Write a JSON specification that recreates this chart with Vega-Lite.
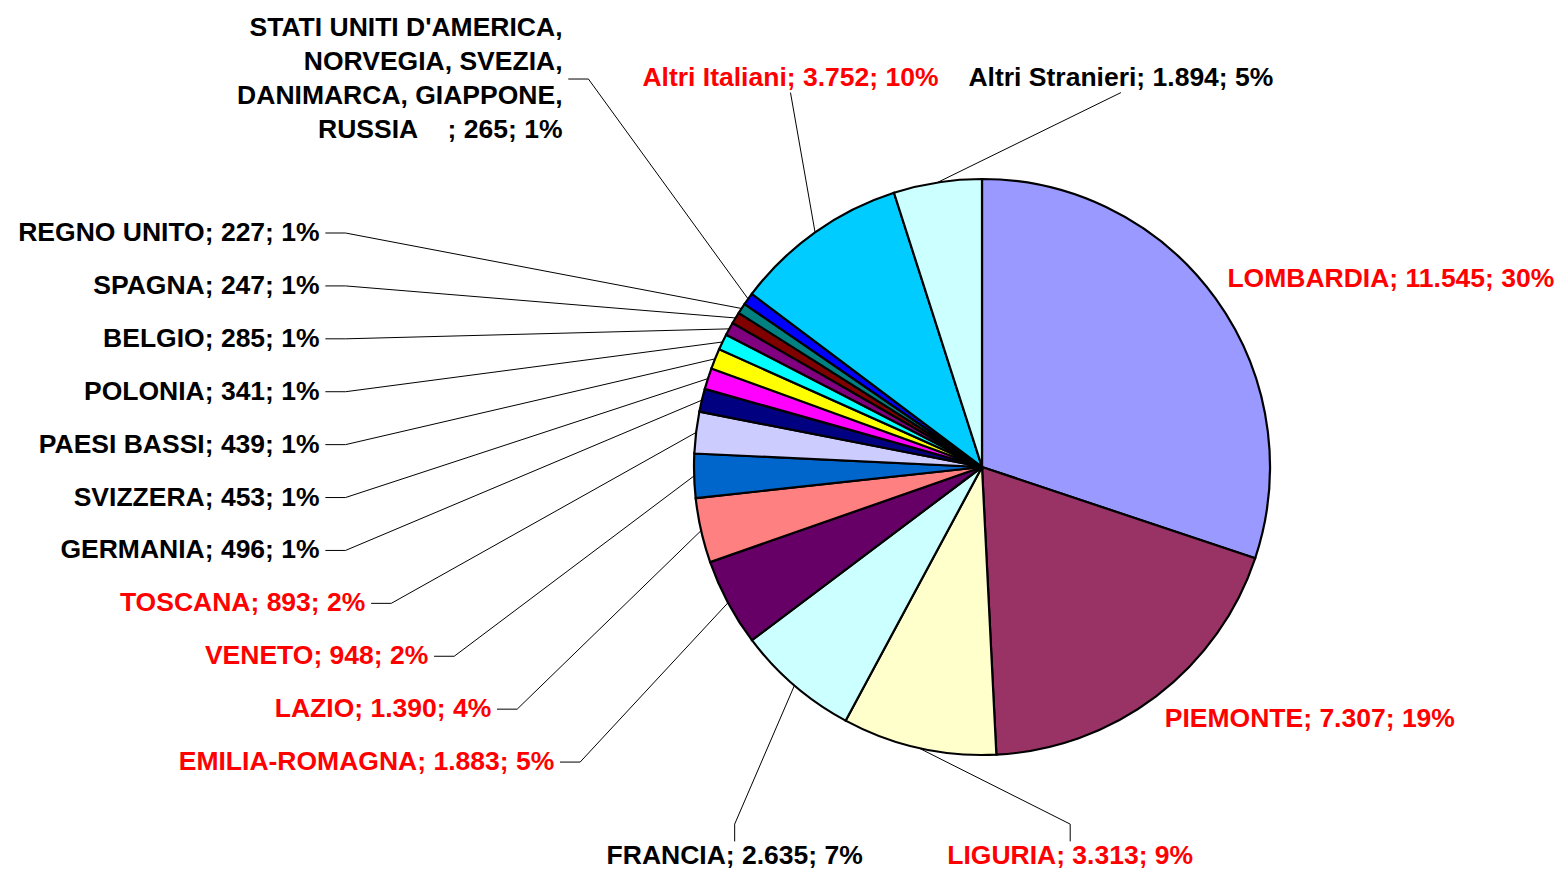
{
  "$schema": "https://vega.github.io/schema/vega-lite/v6.json",
  "width": 1559,
  "height": 879,
  "padding": 0,
  "autosize": {"type": "none"},
  "background": "#ffffff",
  "config": {
    "view": {"stroke": null},
    "locale": {"number": {"decimal": ",", "thousands": ".", "grouping": [3], "currency": ["€", ""]}},
    "text": {"font": "Liberation Sans", "fontWeight": "bold", "fontSize": 26.5, "lineBreak": "\n", "lineHeight": 34}
  },
  "data": {
    "values": [
      {"ordine": 1, "nome": "LOMBARDIA", "valore": 11545, "gruppo": "Italia"},
      {"ordine": 2, "nome": "PIEMONTE", "valore": 7307, "gruppo": "Italia"},
      {"ordine": 3, "nome": "LIGURIA", "valore": 3313, "gruppo": "Italia"},
      {"ordine": 4, "nome": "FRANCIA", "valore": 2635, "gruppo": "Estero"},
      {"ordine": 5, "nome": "EMILIA-ROMAGNA", "valore": 1883, "gruppo": "Italia"},
      {"ordine": 6, "nome": "LAZIO", "valore": 1390, "gruppo": "Italia"},
      {"ordine": 7, "nome": "VENETO", "valore": 948, "gruppo": "Italia"},
      {"ordine": 8, "nome": "TOSCANA", "valore": 893, "gruppo": "Italia"},
      {"ordine": 9, "nome": "GERMANIA", "valore": 496, "gruppo": "Estero"},
      {"ordine": 10, "nome": "SVIZZERA", "valore": 453, "gruppo": "Estero"},
      {"ordine": 11, "nome": "PAESI BASSI", "valore": 439, "gruppo": "Estero"},
      {"ordine": 12, "nome": "POLONIA", "valore": 341, "gruppo": "Estero"},
      {"ordine": 13, "nome": "BELGIO", "valore": 285, "gruppo": "Estero"},
      {"ordine": 14, "nome": "SPAGNA", "valore": 247, "gruppo": "Estero"},
      {"ordine": 15, "nome": "REGNO UNITO", "valore": 227, "gruppo": "Estero"},
      {"ordine": 16, "nome": "STATI UNITI D'AMERICA,\nNORVEGIA, SVEZIA,\nDANIMARCA, GIAPPONE,\nRUSSIA\u00a0\u00a0\u00a0\u00a0", "valore": 265, "gruppo": "Estero"},
      {"ordine": 17, "nome": "Altri Italiani", "valore": 3752, "gruppo": "Italia"},
      {"ordine": 18, "nome": "Altri Stranieri", "valore": 1894, "gruppo": "Estero"}
    ]
  },
  "transform": [
    {"joinaggregate": [{"op": "sum", "field": "valore", "as": "totale"}]},
    {"stack": "valore", "groupby": [], "sort": [{"field": "ordine", "order": "ascending"}], "as": ["v0", "v1"]},
    {"calculate": "PI * (datum.v0 + datum.v1) / datum.totale", "as": "a"},
    {"calculate": "sin(datum.a)", "as": "s"},
    {"calculate": "cos(datum.a)", "as": "c"},
    {"calculate": "datum.a * 180 / PI >= 240 && datum.a * 180 / PI < 315", "as": "colonna"},
    {"calculate": "datum.colonna ? 'colonna' : (datum.s > 0 ? 'destra' : 'riga')", "as": "posto"},
    {"calculate": "datum.nome + '; ' + format(datum.valore, ',') + '; ' + format(datum.valore / datum.totale, '.0%')", "as": "etichetta"},
    {"calculate": "length(split(datum.etichetta, '\\n'))", "as": "righe"},
    {"calculate": "datum.colonna ? 0.1837 + (datum.righe - 1) * 0.234 : 0", "as": "slot"},
    {"window": [{"op": "sum", "field": "slot", "as": "cum"}], "sort": [{"field": "ordine", "order": "descending"}], "frame": [null, 0]},
    {"calculate": "datum.posto == 'colonna' ? 1.79 - datum.cum + datum.slot / 2 : datum.posto == 'destra' ? 1.05 * datum.c + (datum.c >= 0 ? 0.04 : -0.04) : (datum.c >= 0 ? 1.35 : -1.35)", "as": "lv"},
    {"calculate": "datum.posto == 'colonna' ? -2.3 + 1.19 * max(0, -0.34 - datum.lv) + 1.6 * max(0, datum.lv - 0.82) : datum.posto == 'destra' ? 1.05 * datum.s : 0.9 + 2.7 * datum.s", "as": "lu"},
    {"calculate": "datum.lv + (datum.righe - 1) * 0.059", "as": "tv"},
    {"calculate": "datum.posto == 'colonna' ? datum.lu + 0.02 : datum.lu", "as": "pu"},
    {"calculate": "datum.posto == 'colonna' ? datum.lv : datum.lv - (datum.c >= 0 ? 0.05 : -0.05)", "as": "pv"},
    {"calculate": "datum.posto == 'colonna' ? datum.lu + 0.09 : datum.lu", "as": "su"},
    {"calculate": "datum.posto == 'colonna' ? datum.lv : datum.c >= 0 ? datum.pv : datum.lv + 0.11", "as": "sv"}
  ],
  "layer": [
    {
      "transform": [{"filter": "datum.posto != 'destra'"}],
      "mark": {"type": "rule", "stroke": "#000000", "strokeWidth": 1},
      "encoding": {
        "x": {"field": "su", "type": "quantitative", "scale": {"domain": [-3.40972, 2.00347], "nice": false, "zero": false}, "axis": null},
        "y": {"field": "sv", "type": "quantitative", "scale": {"domain": [-1.43056, 1.62153], "nice": false, "zero": false}, "axis": null},
        "x2": {"field": "s"},
        "y2": {"field": "c"}
      }
    },
    {
      "transform": [{"filter": "datum.posto != 'destra'"}],
      "mark": {"type": "rule", "stroke": "#000000", "strokeWidth": 1},
      "encoding": {
        "x": {"field": "pu", "type": "quantitative", "scale": {"domain": [-3.40972, 2.00347], "nice": false, "zero": false}, "axis": null},
        "y": {"field": "pv", "type": "quantitative", "scale": {"domain": [-1.43056, 1.62153], "nice": false, "zero": false}, "axis": null},
        "x2": {"field": "su"},
        "y2": {"field": "sv"}
      }
    },
    {
      "mark": {"type": "arc", "outerRadius": 288, "stroke": "#000000", "strokeWidth": 2.2},
      "encoding": {
        "x": {"datum": 0, "type": "quantitative", "scale": {"domain": [-3.40972, 2.00347], "nice": false, "zero": false}, "axis": null},
        "y": {"datum": 0, "type": "quantitative", "scale": {"domain": [-1.43056, 1.62153], "nice": false, "zero": false}, "axis": null},
        "theta": {"field": "valore", "type": "quantitative", "stack": true},
        "order": {"field": "ordine", "type": "quantitative"},
        "fill": {
          "field": "ordine",
          "type": "ordinal",
          "legend": null,
          "scale": {"range": ["#9999FF", "#993366", "#FFFFCC", "#CCFFFF", "#660066", "#FF8080", "#0066CC", "#CCCCFF", "#000080", "#FF00FF", "#FFFF00", "#00FFFF", "#800080", "#800000", "#008080", "#0000FF", "#00CCFF", "#CCFFFF"]}
        }
      }
    },
    {
      "transform": [{"filter": "datum.posto == 'colonna'"}],
      "mark": {"type": "text", "align": "right", "baseline": "middle"},
      "encoding": {
        "x": {"field": "lu", "type": "quantitative", "scale": {"domain": [-3.40972, 2.00347], "nice": false, "zero": false}, "axis": null},
        "y": {"field": "tv", "type": "quantitative", "scale": {"domain": [-1.43056, 1.62153], "nice": false, "zero": false}, "axis": null},
        "text": {"field": "etichetta"},
        "color": {"field": "gruppo", "type": "nominal", "legend": null, "scale": {"domain": ["Italia", "Estero"], "range": ["#FF0000", "#000000"]}}
      }
    },
    {
      "transform": [{"filter": "datum.posto == 'destra'"}],
      "mark": {"type": "text", "align": "left", "baseline": "middle"},
      "encoding": {
        "x": {"field": "lu", "type": "quantitative", "scale": {"domain": [-3.40972, 2.00347], "nice": false, "zero": false}, "axis": null},
        "y": {"field": "tv", "type": "quantitative", "scale": {"domain": [-1.43056, 1.62153], "nice": false, "zero": false}, "axis": null},
        "text": {"field": "etichetta"},
        "color": {"field": "gruppo", "type": "nominal", "legend": null, "scale": {"domain": ["Italia", "Estero"], "range": ["#FF0000", "#000000"]}}
      }
    },
    {
      "transform": [{"filter": "datum.posto == 'riga'"}],
      "mark": {"type": "text", "align": "center", "baseline": "middle"},
      "encoding": {
        "x": {"field": "lu", "type": "quantitative", "scale": {"domain": [-3.40972, 2.00347], "nice": false, "zero": false}, "axis": null},
        "y": {"field": "tv", "type": "quantitative", "scale": {"domain": [-1.43056, 1.62153], "nice": false, "zero": false}, "axis": null},
        "text": {"field": "etichetta"},
        "color": {"field": "gruppo", "type": "nominal", "legend": null, "scale": {"domain": ["Italia", "Estero"], "range": ["#FF0000", "#000000"]}}
      }
    }
  ],
  "resolve": {"scale": {"fill": "independent", "color": "independent"}}
}
